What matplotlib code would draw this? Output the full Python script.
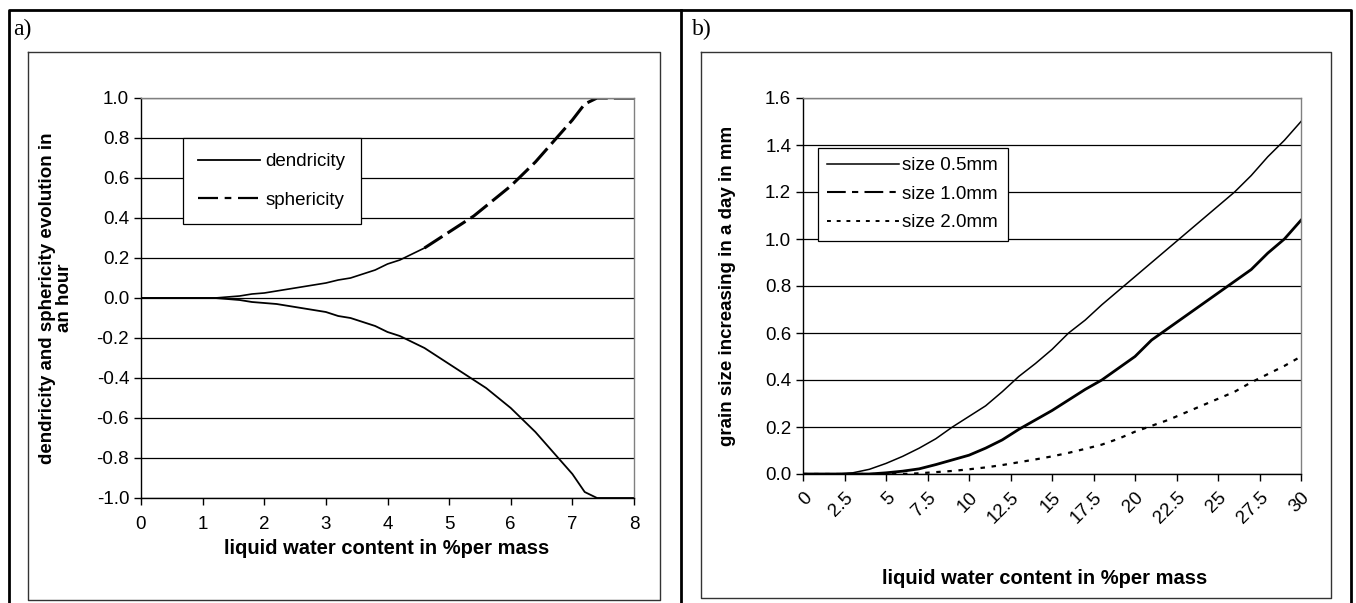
import numpy as np
import matplotlib
matplotlib.use("Agg")
import matplotlib.pyplot as plt
from matplotlib.lines import Line2D

plt.rcParams['font.family'] = ['Liberation Sans', 'DejaVu Sans']

# panel a: evolution per hour vs liquid water content
lwc_a = [0.0, 0.2, 0.4, 0.6, 0.8, 1.0, 1.2, 1.4, 1.6, 1.8, 2.0, 2.2, 2.4, 2.6, 2.8,
         3.0, 3.2, 3.4, 3.6, 3.8, 4.0, 4.2, 4.4, 4.6, 4.8, 5.0, 5.2, 5.4, 5.6, 5.8,
         6.0, 6.2, 6.4, 6.6, 6.8, 7.0, 7.2, 7.4, 7.6, 7.8, 8.0]
dendricity = [0, 0, 0, 0, 0, 0, 0, -0.005, -0.01, -0.02, -0.025, -0.03, -0.04, -0.05,
              -0.06, -0.07, -0.09, -0.10, -0.12, -0.14, -0.17, -0.19, -0.22, -0.25,
              -0.29, -0.33, -0.37, -0.41, -0.45, -0.50, -0.55, -0.61, -0.67, -0.74,
              -0.81, -0.88, -0.97, -1.0, -1.0, -1.0, -1.0]
sphericity = [0, 0, 0, 0, 0, 0, 0, 0.005, 0.01, 0.02, 0.025, 0.035, 0.045, 0.055,
              0.065, 0.075, 0.09, 0.10, 0.12, 0.14, 0.17, 0.19, 0.22, 0.25,
              0.29, 0.33, 0.37, 0.41, 0.46, 0.51, 0.56, 0.62, 0.68, 0.75,
              0.82, 0.89, 0.97, 1.0, 1.0, 1.0, 1.0]
yticks_a = [-1.0, -0.8, -0.6, -0.4, -0.2, 0.0, 0.2, 0.4, 0.6, 0.8, 1.0]

# panel b: grain growth per day
lwc_b = list(range(0, 31))
size_05 = [0, 0, 0, 0.005, 0.02, 0.045, 0.075, 0.11, 0.15, 0.2, 0.245, 0.29, 0.35,
           0.415, 0.47, 0.53, 0.6, 0.655, 0.72, 0.78, 0.84, 0.9, 0.96, 1.02, 1.08,
           1.14, 1.2, 1.27, 1.35, 1.42, 1.5]
size_10 = [0, 0, 0, 0, 0, 0.005, 0.012, 0.022, 0.04, 0.06, 0.08, 0.11, 0.145, 0.19,
           0.23, 0.27, 0.315, 0.36, 0.4, 0.45, 0.5, 0.57, 0.62, 0.67, 0.72, 0.77,
           0.82, 0.87, 0.94, 1.0, 1.08]
size_20 = [0, 0, 0, 0, 0, 0, 0, 0.003, 0.008, 0.013, 0.02, 0.028, 0.038, 0.05,
           0.062, 0.075, 0.09, 0.107, 0.125, 0.15, 0.18, 0.205, 0.23, 0.26, 0.29,
           0.32, 0.35, 0.39, 0.425, 0.46, 0.5]
yticks_b = [0.0, 0.2, 0.4, 0.6, 0.8, 1.0, 1.2, 1.4, 1.6]

xticks_b = [0, 2.5, 5, 7.5, 10, 12.5, 15, 17.5, 20, 22.5, 25, 27.5, 30]
xtick_labels_b = ['0', '2.5', '5', '7.5', '10', '12.5', '15', '17.5', '20',
                  '22.5', '25', '27.5', '30']

W, H = 1356, 603
FS = 13.5
fig = plt.figure(figsize=(W / 100, H / 100), dpi=100)


def box(x0, y0, x1, y1):
    # pixel rectangle (top-left origin) -> figure fractions
    return [x0 / W, 1 - y1 / H, (x1 - x0) / W, (y1 - y0) / H]


def line(xs, ys, lw=1.0, color='black'):
    fig.add_artist(Line2D([x / W for x in xs], [1 - y / H for y in ys],
                          transform=fig.transFigure, lw=lw, color=color))


# table frame and chart boxes
line([9, 9, 1351, 1351], [603, 10, 10, 603], lw=2.0)
line([681, 681], [10, 603], lw=2.0)
line([28, 660, 660, 28, 28], [52, 52, 600, 600, 52], lw=1.0, color='#333333')
line([701, 1331, 1331, 701, 701], [52, 52, 598, 598, 52], lw=1.0, color='#333333')

fig.text(13 / W, 1 - 29 / H, 'a)', family='Liberation Serif', fontsize=17, va='center')
fig.text(692 / W, 1 - 29 / H, 'b)', family='Liberation Serif', fontsize=17, va='center')


def style_axes(ax):
    for side in ['top', 'right']:
        ax.spines[side].set_color('#808080')
    for side in ['left', 'bottom']:
        ax.spines[side].set_color('black')
    for s in ax.spines.values():
        s.set_linewidth(1.0)
    ax.tick_params(direction='out', length=5, width=1, labelsize=FS, colors='black')
    ax.yaxis.grid(True, color='black', lw=0.9)
    ax.set_axisbelow(True)


# ---- panel a ----
ax1 = fig.add_axes(box(141, 98, 634, 498))
style_axes(ax1)
ax1.plot(lwc_a, dendricity, color='black', lw=1.3)
xa = np.array(lwc_a)
sa = np.array(sphericity)
k = xa <= 4.6
ax1.plot(xa[k], sa[k], color='black', lw=1.2)
ax1.plot(xa[xa >= 4.6], sa[xa >= 4.6], color='black', lw=2.2, dashes=(7, 2))
ax1.set_xlim(0, 8)
ax1.set_ylim(-1.0, 1.0)
ax1.set_xticks(range(0, 9))
ax1.set_yticks(yticks_a)
ax1.set_yticklabels(['%.1f' % v for v in yticks_a])
ax1.tick_params(axis='x', pad=8)

fig.text(56 / W, 1 - 298 / H, 'dendricity and sphericity evolution in\nan hour',
         rotation=90, ha='center', va='center', fontsize=FS, fontweight='bold',
         linespacing=1.0)
fig.text(387 / W, 1 - 548 / H, 'liquid water content in %per mass',
         ha='center', va='center', fontsize=14.5, fontweight='bold')

handles_a = [Line2D([], [], color='black', lw=1.3),
             Line2D([], [], color='black', lw=1.6, dashes=(9, 3, 3, 3))]
leg = ax1.legend(handles_a, ['dendricity', 'sphericity'], loc='upper left',
                 bbox_to_anchor=(183 / W, 1 - 138 / H), bbox_transform=fig.transFigure,
                 borderaxespad=0, fontsize=FS, handlelength=3.3, handletextpad=0.3,
                 borderpad=0.8, labelspacing=1.15, fancybox=False, framealpha=1)
leg.get_frame().set_edgecolor('black')
leg.get_frame().set_linewidth(0.9)

# ---- panel b ----
ax2 = fig.add_axes(box(803, 98, 1301, 474))
style_axes(ax2)
ax2.plot(lwc_b, size_05, color='black', lw=1.1)
ax2.plot(lwc_b, size_10, color='black', lw=2.0)
ax2.plot(lwc_b, size_20, color='black', lw=1.6, dashes=(2, 3))
ax2.set_xlim(0, 30)
ax2.set_ylim(0, 1.6)
ax2.set_xticks(xticks_b)
ax2.set_xticklabels(xtick_labels_b, rotation=45, ha='right', va='top',
                    rotation_mode='anchor')
ax2.set_yticks(yticks_b)
ax2.set_yticklabels(['%.1f' % v for v in yticks_b])
ax2.tick_params(axis='x', pad=6)

fig.text(727 / W, 1 - 286 / H, 'grain size increasing in a day in mm',
         rotation=90, ha='center', va='center', fontsize=FS, fontweight='bold')
fig.text(1045 / W, 1 - 579 / H, 'liquid water content in %per mass',
         ha='center', va='center', fontsize=14.5, fontweight='bold')

handles_b = [Line2D([], [], color='black', lw=1.1),
             Line2D([], [], color='black', lw=1.5, dashes=(9, 3, 3, 3)),
             Line2D([], [], color='black', lw=1.4, dashes=(2, 3))]
leg2 = ax2.legend(handles_b, ['size 0.5mm', 'size 1.0mm', 'size 2.0mm'], loc='upper left',
                  bbox_to_anchor=(818 / W, 1 - 148 / H), bbox_transform=fig.transFigure,
                  borderaxespad=0, fontsize=FS, handlelength=3.8, handletextpad=0.2,
                  borderpad=0.5, labelspacing=0.6, fancybox=False, framealpha=1)
leg2.get_frame().set_edgecolor('black')
leg2.get_frame().set_linewidth(0.9)

fig.savefig('out.png', dpi=100)
